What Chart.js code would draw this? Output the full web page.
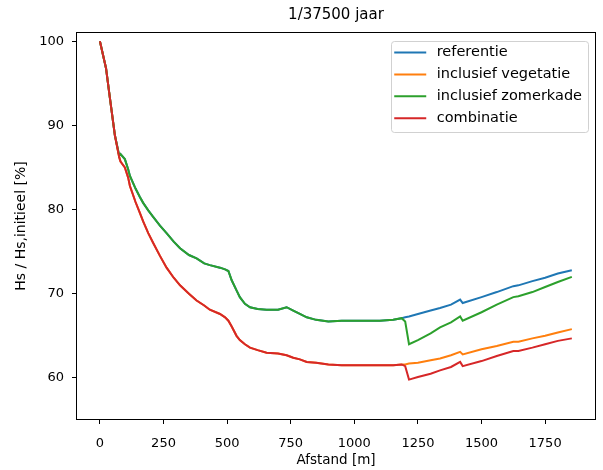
<!DOCTYPE html>
<html>
<head>
<meta charset="utf-8">
<title>Golfhoogte langs traject</title>
<script src="https://cdn.jsdelivr.net/npm/chart.js@4.4.1/dist/chart.umd.min.js"></script>
<style>
  html, body { margin: 0; padding: 0; background: #fff; }
  #wrap { width: 603px; height: 470px; }
</style>
</head>
<body>
<div id="wrap"><canvas id="hsChart" width="603" height="470"></canvas></div>
<script>
// afstand [m] tot aan de zomerkade, gedeeld door alle varianten
const afstandBasis = [0, 24, 40, 59, 76, 81, 98, 111, 118, 140, 157, 170, 190, 210, 236, 262, 290, 315, 350,
    380, 410, 432, 472, 492, 505, 518, 537, 550, 570, 590, 620, 655, 700, 734, 760, 786, 813, 850, 898,
    950, 1022, 1100, 1153, 1186];
// afstand [m] na de zomerkade
const afstandStaart = [1200, 1215, 1250, 1300, 1337, 1380, 1416, 1426, 1500, 1560, 1625, 1645, 1700, 1750, 1800, 1855];

// Hs / Hs,initieel [%] zonder vegetatie (referentie = zomerkade tot de kade)
const zonderVegetatie = [100, 96.8, 93.1, 88.8, 86.4, 86.6, 86.0, 84.8, 84.0, 82.5, 81.5, 80.8, 79.9, 79.1,
    78.1, 77.2, 76.2, 75.4, 74.6, 74.2, 73.6, 73.4, 73.1, 72.9, 72.7, 71.6, 70.4, 69.6, 68.8, 68.4, 68.2,
    68.1, 68.1, 68.4, 68.0, 67.6, 67.2, 66.9, 66.7, 66.8, 66.8, 66.8, 66.9, 67.1];
// Hs / Hs,initieel [%] met vegetatie (vegetatie = combinatie tot de kade)
const metVegetatie = [100, 96.8, 93.1, 88.8, 86.2, 85.7, 85.0, 83.8, 82.8, 80.9, 79.6, 78.6, 77.2, 76.0,
    74.5, 73.1, 71.9, 71.0, 70.0, 69.2, 68.6, 68.1, 67.6, 67.2, 66.8, 66.1, 65.0, 64.5, 64.0, 63.6, 63.3,
    63.0, 62.9, 62.7, 62.4, 62.2, 61.9, 61.8, 61.6, 61.5, 61.5, 61.5, 61.5, 61.6];

const staartReferentie = [67.2, 67.3, 67.6, 68.0, 68.3, 68.7, 69.3, 68.9, 69.6, 70.2, 70.9, 71.0, 71.5, 71.9, 72.4, 72.8];
const staartVegetatie = [61.6, 61.7, 61.8, 62.1, 62.3, 62.7, 63.1, 62.8, 63.4, 63.8, 64.3, 64.3, 64.7, 65.0, 65.4, 65.8];
const staartZomerkade = [66.7, 64.0, 64.5, 65.3, 66.0, 66.6, 67.3, 66.8, 67.8, 68.7, 69.6, 69.7, 70.2, 70.8, 71.4, 72.0];
const staartCombinatie = [61.4, 59.8, 60.1, 60.5, 60.9, 61.3, 61.9, 61.4, 62.0, 62.6, 63.2, 63.2, 63.6, 64.0, 64.4, 64.7];

const reeksNamen = ['referentie', 'inclusief vegetatie', 'inclusief zomerkade', 'combinatie'];
const reeksKleuren = ['#1f77b4', '#ff7f0e', '#2ca02c', '#d62728'];

const xTicks = [0, 250, 500, 750, 1000, 1250, 1500, 1750];
const yTicks = [60, 70, 80, 90, 100];

const afstand = afstandBasis.concat(afstandStaart);
const reeksen = [
    zonderVegetatie.concat(staartReferentie),
    metVegetatie.concat(staartVegetatie),
    zonderVegetatie.concat(staartZomerkade),
    metVegetatie.concat(staartCombinatie)
];

function toPoints(values) {
    return values.map((v, i) => ({ x: afstand[i], y: v }));
}

const FONT = "'DejaVu Sans', sans-serif";

// kader rond het plotgebied (zoals matplotlib spines)
const kaderPlugin = {
    id: 'kader',
    afterDatasetsDraw(chart) {
        const { ctx, chartArea: a } = chart;
        ctx.save();
        ctx.strokeStyle = '#000';
        ctx.lineWidth = 1;
        ctx.strokeRect(Math.round(a.left) + 0.5, Math.round(a.top) + 0.5,
            Math.round(a.right - a.left) - 1, Math.round(a.bottom - a.top) - 1);
        ctx.restore();
    }
};

// legenda rechtsboven in het plotgebied
const legendaPlugin = {
    id: 'legenda',
    afterDraw(chart) {
        const { ctx, chartArea: a } = chart;
        const sets = chart.data.datasets;
        ctx.save();
        ctx.font = '14.5px ' + FONT;
        let maxW = 0;
        sets.forEach(ds => { maxW = Math.max(maxW, ctx.measureText(ds.label).width); });
        const w = 46 + maxW + 6;
        const h = 91;
        const x0 = a.right - 8 - w;
        const y0 = a.top + 8.5;
        ctx.fillStyle = 'rgba(255,255,255,0.8)';
        ctx.strokeStyle = 'rgba(204,204,204,0.9)';
        ctx.lineWidth = 1;
        ctx.beginPath();
        ctx.roundRect(Math.round(x0) + 0.5, Math.round(y0) + 0.5, Math.round(w), Math.round(h), 3);
        ctx.fill();
        ctx.stroke();
        sets.forEach((ds, i) => {
            const y = y0 + 12 + i * 21.9;
            ctx.strokeStyle = ds.borderColor;
            ctx.lineWidth = 2;
            ctx.beginPath();
            ctx.moveTo(x0 + 3.5, y);
            ctx.lineTo(x0 + 35.5, y);
            ctx.stroke();
            ctx.fillStyle = '#000';
            ctx.textBaseline = 'middle';
            ctx.fillText(ds.label, x0 + 46, y);
        });
        ctx.restore();
    }
};

const ctx = document.getElementById('hsChart').getContext('2d');
new Chart(ctx, {
    type: 'line',
    data: {
        datasets: reeksen.map((vals, i) => ({
            label: reeksNamen[i],
            data: toPoints(vals),
            borderColor: reeksKleuren[i],
            backgroundColor: reeksKleuren[i],
            borderWidth: 2,
            pointRadius: 0,
            tension: 0,
            fill: false,
            order: 4 - i
        }))
    },
    options: {
        responsive: false,
        animation: false,
        layout: { padding: { top: 6, right: 7, bottom: 0, left: 0 } },
        scales: {
            x: {
                type: 'linear',
                min: -94,
                max: 1950,
                afterFit(scale) { scale.height = 50; },
                afterBuildTicks(scale) { scale.ticks = xTicks.map(v => ({ value: v })); },
                border: { display: false },
                grid: { drawOnChartArea: false, drawTicks: true, tickLength: 4, color: '#000', lineWidth: 1 },
                ticks: {
                    color: '#000',
                    padding: 12,
                    maxRotation: 0,
                    font: { family: FONT, size: 13 },
                    callback: v => String(v)
                },
                title: {
                    display: true,
                    text: 'Afstand [m]',
                    color: '#000',
                    font: { family: FONT, size: 13.5 },
                    padding: { top: 4, bottom: 1 }
                }
            },
            y: {
                type: 'linear',
                min: 55,
                max: 101.1,
                afterFit(scale) { scale.width = 76; },
                afterBuildTicks(scale) { scale.ticks = yTicks.map(v => ({ value: v })); },
                border: { display: false },
                grid: { drawOnChartArea: false, drawTicks: true, tickLength: 4, color: '#000', lineWidth: 1 },
                ticks: { color: '#000', padding: 8, font: { family: FONT, size: 13 }, callback: v => String(v) },
                title: {
                    display: true,
                    text: 'Hs / Hs,initieel [%]',
                    color: '#000',
                    font: { family: FONT, size: 14 },
                    padding: { top: 13, bottom: 0 }
                }
            }
        },
        plugins: {
            legend: { display: false },
            tooltip: { enabled: false },
            title: {
                display: true,
                fullSize: false,
                text: '1/37500 jaar',
                color: '#000',
                font: { family: FONT, size: 15, weight: 'normal' },
                padding: { top: 0, bottom: 8 }
            }
        }
    },
    plugins: [kaderPlugin, legendaPlugin]
});
</script>
</body>
</html>
